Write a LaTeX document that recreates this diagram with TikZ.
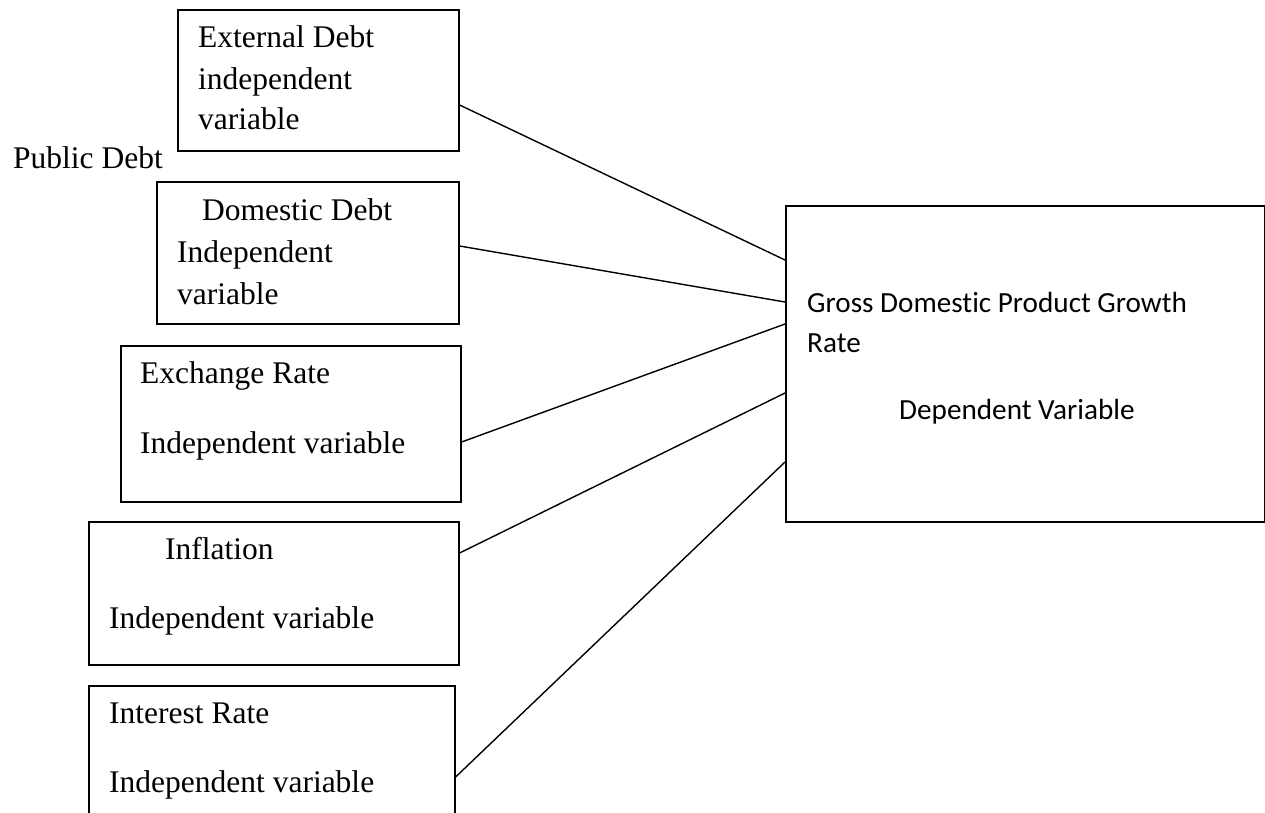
\documentclass[tikz,border=0pt]{standalone}
\usepackage{fontspec}
\setmainfont{Liberation Serif}
\newfontfamily\calib[Ligatures={NoCommon,NoRequired,NoContextual}]{Carlito}
\usetikzlibrary{calc}
\begin{document}
\begin{tikzpicture}[x=1pt,y=-1pt,
  box/.style={draw, line width=1.6pt, inner sep=0pt, anchor=north west},
  txt/.style={anchor=base west, inner sep=0pt, font=\fontsize{31.5}{38}\selectfont},
  gtxt/.style={anchor=base west, inner sep=0pt, font=\calib\fontsize{29.2}{35}\selectfont},
  link/.style={line width=1.4pt}]
\useasboundingbox (0,0) rectangle (1265,813);
\clip (0,0) rectangle (1265,813);
% boxes
\node[box, minimum width=281pt, minimum height=141pt] (ext) at (177,9) {};
\node[box, minimum width=302pt, minimum height=142pt] (dom) at (156,181) {};
\node[box, minimum width=340pt, minimum height=156pt] (exc) at (120,345) {};
\node[box, minimum width=370pt, minimum height=143pt] (inf) at (88,521) {};
\node[box, minimum width=366pt, minimum height=165pt] (int) at (88,685) {};
\node[box, minimum width=479pt, minimum height=316pt] (gdp) at (785,205) {};
% texts
\node[txt] (t1) at (198,48) {External Debt};
\node[txt] (t2) at (198,90) {independent};
\node[txt] (t3) at (198,130) {variable};
\node[txt] (pub) at (13,168) {Public Debt};
\node[txt] (t4) at (202,220) {Domestic Debt};
\node[txt] (t5) at (177,262) {Independent};
\node[txt] (t6) at (177,304) {variable};
\node[txt] (t7) at (140,383) {Exchange Rate};
\node[txt] (t8) at (140,453) {Independent variable};
\node[txt] (t9) at (165,559) {Inflation};
\node[txt] (t10) at (109,628) {Independent variable};
\node[txt] (t11) at (109,723) {Interest Rate};
\node[txt] (t12) at (109,792) {Independent variable};
\node[gtxt] (g1) at (807,312) {Gross Domestic Product Growth};
\node[gtxt] (g2) at (807,352) {Rate};
\node[gtxt] (g3) at (899,419) {Dependent Variable};
% connectors
\draw[link] ($(ext.north east)+(0,96)$) -- ($(gdp.north west)+(0,55)$);
\draw[link] ($(dom.north east)+(0,65)$) -- ($(gdp.north west)+(0,97)$);
\draw[link] ($(exc.north east)+(0,97)$) -- ($(gdp.north west)+(0,119)$);
\draw[link] ($(inf.north east)+(0,32)$) -- ($(gdp.north west)+(0,188)$);
\draw[link] ($(int.north east)+(0,92)$) -- ($(gdp.north west)+(0,257)$);
\end{tikzpicture}
\end{document}
